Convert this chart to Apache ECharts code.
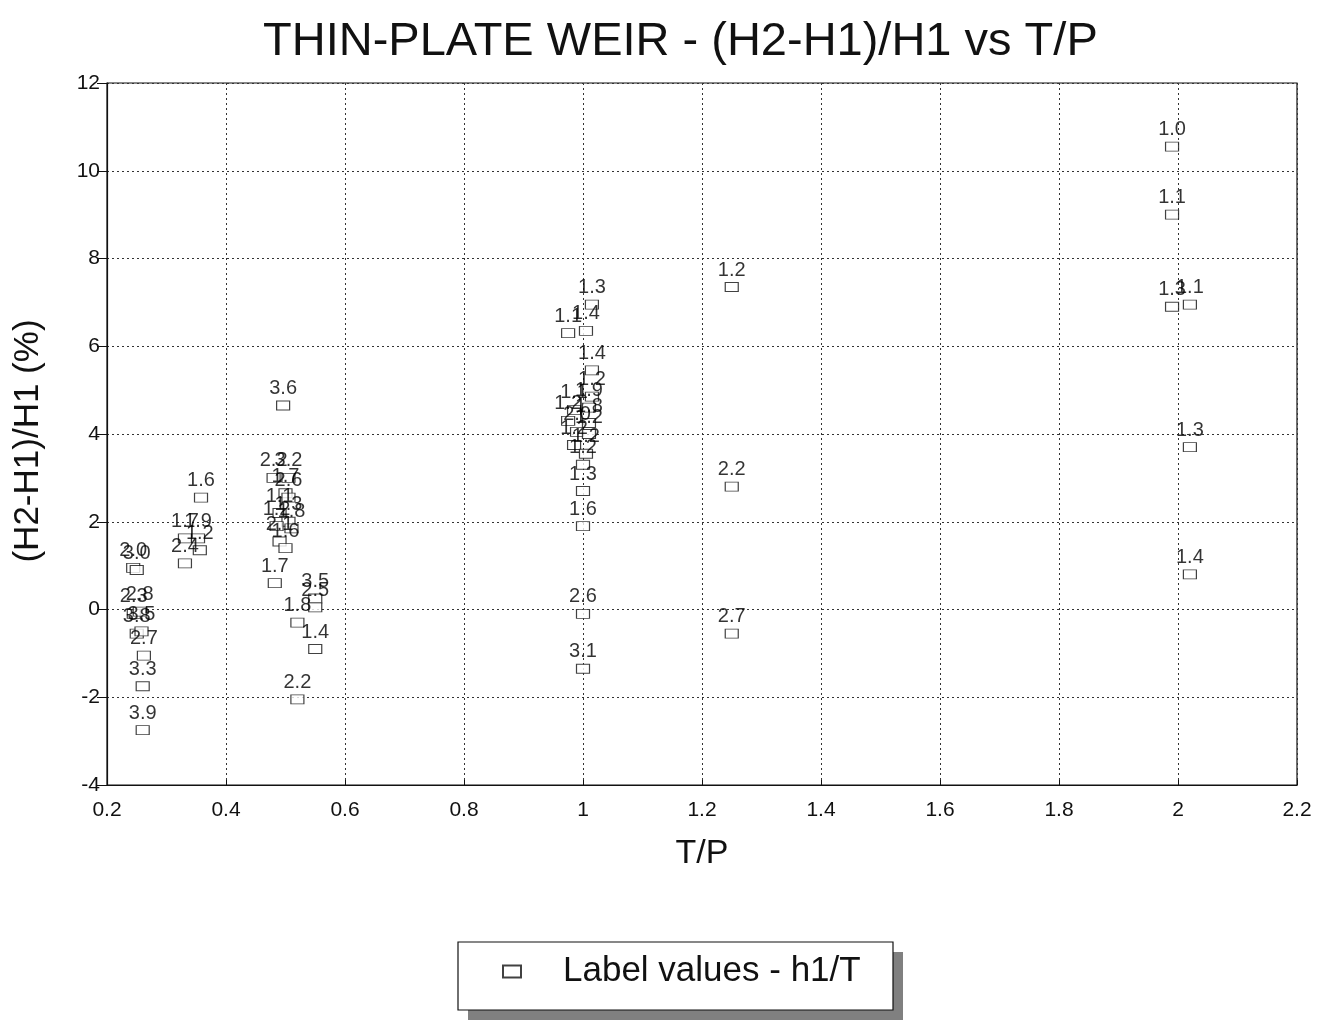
<!DOCTYPE html>
<html>
<head>
<meta charset="utf-8">
<script src="https://cdn.jsdelivr.net/npm/echarts@6/dist/echarts.min.js"></script>
<style>html,body{margin:0;padding:0;background:#fff}#c{width:1329px;height:1022px}</style>
</head>
<body>
<div id="c"></div>
<script>
// T/P values
const tp = [
  0.244, 0.250, 0.245, 0.255, 0.250, 0.258, 0.262, 0.260, 0.260,
  0.358, 0.331, 0.353, 0.331, 0.356,
  0.496, 0.480, 0.505, 0.500, 0.505, 0.490, 0.505, 0.485, 0.510, 0.490, 0.500,
  0.482, 0.550, 0.550, 0.520, 0.550, 0.520,
  1.015, 0.975, 1.005, 1.015, 1.015, 0.985, 0.975, 1.010, 1.010, 0.990, 1.010, 0.985, 1.005, 1.000, 1.000, 1.000, 1.000, 1.000,
  1.250, 1.250, 1.250,
  1.990, 1.990, 1.990, 2.020, 2.020, 2.020
];
// (H2-H1)/H1 (%)
const dH = [
  0.95, 0.90, -0.10, -0.05, -0.55, -0.50, -1.05, -1.75, -2.75,
  2.55, 1.62, 1.62, 1.05, 1.35,
  4.65, 3.00, 3.00, 2.65, 2.55, 2.20, 2.00, 1.90, 1.85, 1.55, 1.40,
  0.60, 0.25, 0.05, -0.30, -0.90, -2.05,
  6.95, 6.30, 6.35, 5.45, 4.85, 4.55, 4.30, 4.60, 4.25, 4.05, 4.00, 3.75, 3.55, 3.30, 2.70, 1.90, -0.10, -1.35,
  7.35, 2.80, -0.55,
  10.55, 9.00, 6.90, 6.95, 3.70, 0.80
];
// point labels: h1/T
const h1T = [
  "2.0", "3.0", "2.3", "2.8", "3.8", "3.5", "2.7", "3.3", "3.9",
  "1.6", "1.7", "1.9", "2.4", "1.2",
  "3.6", "2.2", "3.2", "1.7", "2.6", "1.1", "1.3", "1.2", "1.8", "2.1", "1.6",
  "1.7", "3.5", "2.5", "1.8", "1.4", "2.2",
  "1.3", "1.1", "1.4", "1.4", "1.2", "1.1", "1.2", "1.9", "1.8", "2.0", "1.2", "1.2", "1.2", "1.2", "1.3", "1.6", "2.6", "3.1",
  "1.2", "2.2", "2.7",
  "1.0", "1.1", "1.3", "1.1", "1.3", "1.4"
];
const xTicks = { min: 0.2, max: 2.2, interval: 0.2 };
const yTicks = { min: -4, max: 12, interval: 2 };

const pts = tp.map((x, i) => ({ value: [x, dH[i]], label: h1T[i] }));
const FONT = '"Liberation Sans", Arial, sans-serif';

const chart = echarts.init(document.getElementById('c'));
chart.setOption({
  animation: false,
  backgroundColor: '#fff',
  title: {
    text: 'THIN-PLATE WEIR - (H2-H1)/H1 vs T/P',
    left: 258, top: 14,
    textStyle: { fontFamily: FONT, fontSize: 47, fontWeight: 'normal', color: '#111' }
  },
  graphic: [
    { type: 'rect', z: 0, shape: { x: 468, y: 952, width: 435, height: 68 }, style: { fill: '#808080' } },
    { type: 'rect', z: 1, shape: { x: 458, y: 942, width: 435, height: 68 }, style: { fill: '#fff', stroke: '#111', lineWidth: 1.2 } }
  ],
  grid: {
    left: 107, right: 32, top: 83, bottom: 237,
    show: true, borderColor: '#111', borderWidth: 1.2, backgroundColor: 'transparent'
  },
  xAxis: {
    type: 'value', min: xTicks.min, max: xTicks.max, interval: xTicks.interval,
    name: 'T/P', nameLocation: 'middle', nameGap: 52,
    nameTextStyle: { fontFamily: FONT, fontSize: 34, color: '#111' },
    axisLine: { show: true, onZero: false, lineStyle: { color: '#111', width: 1.2 } },
    axisTick: { show: true, length: 5, inside: true, lineStyle: { color: '#111' } },
    axisLabel: { fontFamily: FONT, fontSize: 21, color: '#111', margin: 15 },
    splitLine: { show: true, lineStyle: { color: '#333', width: 1, type: [2, 3] } }
  },
  yAxis: {
    type: 'value', min: yTicks.min, max: yTicks.max, interval: yTicks.interval,
    name: '(H2-H1)/H1 (%)', nameLocation: 'middle', nameGap: 61, nameRotate: 90,
    nameTextStyle: { fontFamily: FONT, fontSize: 35, color: '#111', padding: [0, 0, 0, -14] },
    axisLine: { show: true, onZero: false, lineStyle: { color: '#111', width: 1.2 } },
    axisTick: { show: true, length: 10, lineStyle: { color: '#111' } },
    axisLabel: { fontFamily: FONT, fontSize: 21, color: '#111', margin: 7 },
    splitLine: { show: true, lineStyle: { color: '#333', width: 1, type: [2, 3] } }
  },
  legend: {
    left: 502, top: 954, z: 5,
    padding: 0,
    itemGap: 10, itemWidth: 18, itemHeight: 12,
    textStyle: { fontFamily: FONT, fontSize: 35, color: '#111', padding: [4, 0, 0, 37] },
    data: [{ name: 'Label values - h1/T', icon: 'rect' }]
  },
  series: [{
    name: 'Label values - h1/T',
    type: 'scatter',
    symbol: 'rect',
    symbolSize: [13, 9],
    itemStyle: { color: '#fff', borderColor: '#111', borderWidth: 1 },
    label: {
      show: true, position: 'top', distance: 2,
      formatter: p => p.data.label,
      fontFamily: FONT, fontSize: 20, color: '#000'
    },
    labelLayout: { hideOverlap: false },
    data: pts
  }]
});
</script>
</body>
</html>
